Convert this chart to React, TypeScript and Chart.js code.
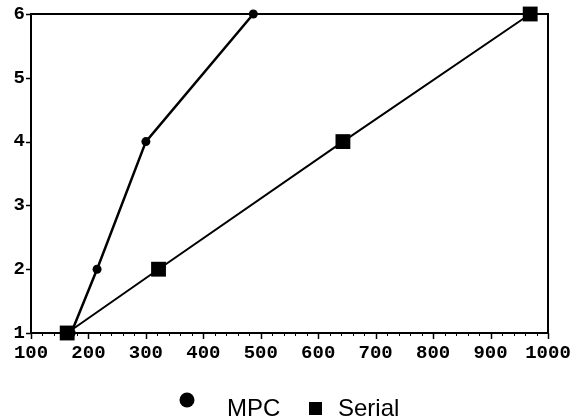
import React, { useEffect, useRef } from "react";
import { Chart, registerables } from "chart.js";

Chart.register(...registerables);

const seriesNames = ["MPC", "Serial"];
const mpcX = [170, 215, 300, 487];
const mpcY = [1, 2, 4, 6];
const serialX = [163, 322, 643, 969];
const serialY = [1, 2, 4, 6];
const xMin = 100;
const xMax = 1000;
const xMajorStep = 100;
const xMinorStep = 20;
const yMin = 1;
const yMax = 6;

const tickFont = { family: "'Liberation Mono', 'Courier New', monospace", size: 19, weight: "bold" as const };

const framePlugin = {
  id: "frame",
  beforeDatasetsDraw(chart: any) {
    const { ctx, chartArea } = chart;
    ctx.save();
    ctx.strokeStyle = "#000";
    ctx.lineWidth = 2;
    ctx.strokeRect(chartArea.left, chartArea.top, chartArea.right - chartArea.left, chartArea.bottom - chartArea.top);
    const xs = chart.scales.x;
    for (let v = xMin; v <= xMax + 0.001; v += xMinorStep) {
      const px = Math.round(xs.getPixelForValue(v)) + 0.5;
      const major = Math.abs((v - xMin) % xMajorStep) < 0.001;
      ctx.beginPath();
      ctx.moveTo(px, chartArea.bottom);
      ctx.lineTo(px, chartArea.bottom + (major ? 6 : 3));
      ctx.lineWidth = major ? 1.5 : 1;
      ctx.stroke();
    }
    const ys = chart.scales.y;
    for (let v = yMin; v <= yMax; v += 1) {
      const py = Math.round(ys.getPixelForValue(v)) + 0.5;
      ctx.beginPath();
      ctx.moveTo(chartArea.left - 5, py);
      ctx.lineTo(chartArea.left, py);
      ctx.lineWidth = 1.5;
      ctx.stroke();
    }
    ctx.restore();
  },
  afterDraw(chart: any) {
    const { ctx } = chart;
    ctx.save();
    ctx.fillStyle = "#000";
    ctx.font = "24px 'Liberation Sans', Arial, sans-serif";
    ctx.textBaseline = "alphabetic";
    ctx.textAlign = "left";
    ctx.beginPath();
    ctx.arc(187, 400, 7.5, 0, Math.PI * 2);
    ctx.fill();
    ctx.fillText(seriesNames[0], 227, 416);
    ctx.fillRect(309, 402, 13, 13);
    ctx.fillText(seriesNames[1], 338, 416);
    ctx.restore();
  },
};

export default function App() {
  const ref = useRef<HTMLCanvasElement | null>(null);
  useEffect(() => {
    if (!ref.current) return;
    const chart = new Chart(ref.current, {
      type: "line",
      data: {
        datasets: [
          {
            label: seriesNames[0],
            data: mpcX.map((x, i) => ({ x, y: mpcY[i] })),
            borderColor: "#000",
            backgroundColor: "#000",
            borderWidth: 2.5,
            pointStyle: "circle",
            pointRadius: 4.5,
            pointBorderWidth: 0,
            clip: false,
          },
          {
            label: seriesNames[1],
            data: serialX.map((x, i) => ({ x, y: serialY[i] })),
            borderColor: "#000",
            backgroundColor: "#000",
            borderWidth: 2,
            pointStyle: "rect",
            pointRadius: 10.5,
            pointBorderWidth: 0,
            clip: false,
          },
        ],
      },
      options: {
        animation: false,
        responsive: false,
        layout: { padding: { top: 14, right: 32, bottom: 45, left: 0 } },
        plugins: { legend: { display: false }, tooltip: { enabled: false } },
        scales: {
          x: {
            type: "linear",
            min: xMin,
            max: xMax,
            border: { display: false },
            grid: { display: false, drawTicks: false },
            ticks: {
              stepSize: xMajorStep,
              color: "#000",
              font: tickFont,
              padding: 9,
              maxRotation: 0,
              callback: (v: any) => String(v),
            },
            afterFit(scale: any) {
              scale.height = 40;
            },
          },
          y: {
            type: "linear",
            min: yMin,
            max: yMax,
            border: { display: false },
            grid: { display: false, drawTicks: false },
            ticks: {
              stepSize: 1,
              color: "#000",
              font: { ...tickFont, lineHeight: 0.4 },
              padding: 6,
              callback: (v: any) => String(v),
            },
            afterFit(scale: any) {
              scale.width = 31;
            },
          },
        },
      },
      plugins: [framePlugin],
    });
    return () => chart.destroy();
  }, []);
  return (
    <div style={{ position: "absolute", left: 0, top: 0, width: 580, height: 418, background: "#fff" }}>
      <canvas ref={ref} width={580} height={418} style={{ width: 580, height: 418 }} />
    </div>
  );
}
